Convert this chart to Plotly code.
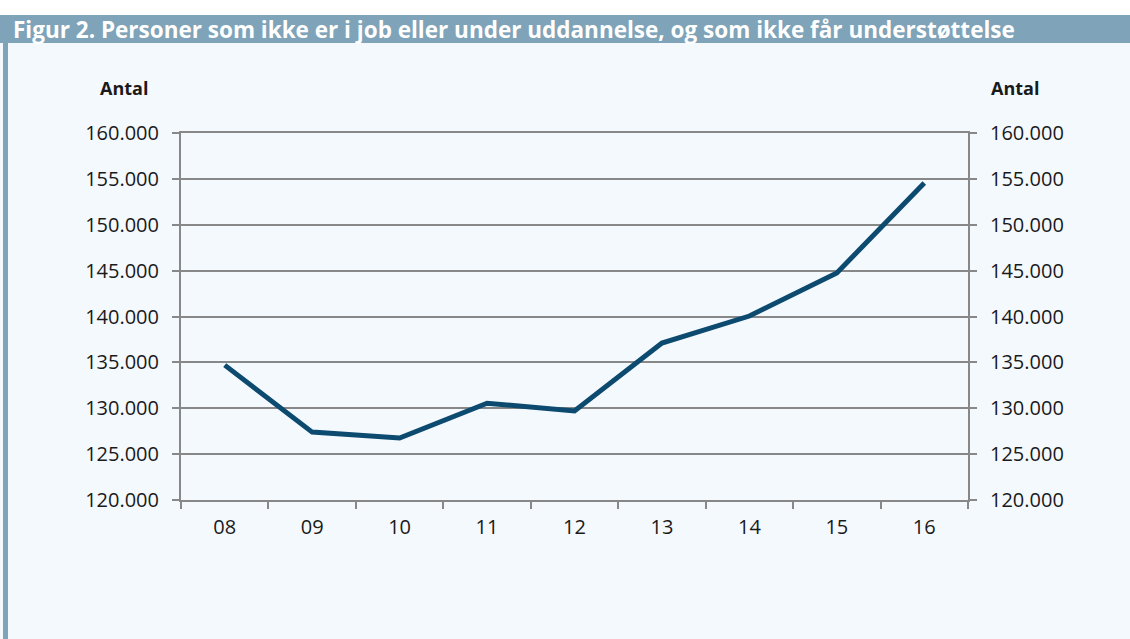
import plotly.graph_objects as go

years = ["08", "09", "10", "11", "12", "13", "14", "15", "16"]
antal = [134700, 127400, 126750, 130550, 129700, 137100, 140050, 144750, 154550]
y_ticks = [120000, 125000, 130000, 135000, 140000, 145000, 150000, 155000, 160000]
y_tick_labels = ["120.000", "125.000", "130.000", "135.000", "140.000", "145.000", "150.000", "155.000", "160.000"]
title = "Figur 2. Personer som ikke er i job eller under uddannelse, og som ikke får understøttelse"

W, H = 1130, 639
L, R, T, B = 181, 162, 133, 139
pw, ph = W - L - R, H - T - B

def px(x):
    return (x - L) / pw

def py(y):
    return (H - B - y) / ph

FONT = "Open Sans"
fig = go.Figure()
fig.add_trace(go.Scatter(x=years, y=antal, mode="lines",
                         line=dict(color="#0d4a70", width=5), showlegend=False, hoverinfo="x+y"))
fig.add_trace(go.Scatter(x=years, y=antal, mode="lines", yaxis="y2",
                         line=dict(color="rgba(0,0,0,0)", width=0), showlegend=False, hoverinfo="skip"))

axis_common = dict(range=[120000, 160000], tickvals=y_ticks, ticktext=y_tick_labels,
                   ticks="outside", ticklen=7, tickcolor="#888888", tickwidth=2,
                   linecolor="#888888", linewidth=2, showline=True, automargin=False,
                   ticklabelstandoff=9,
                   tickfont=dict(family=FONT, size=20, color="#1a1a1a"), zeroline=False)

fig.update_layout(
    width=W, height=H,
    margin=dict(l=L, r=R, t=T, b=B, autoexpand=False),
    paper_bgcolor="white",
    plot_bgcolor="rgba(0,0,0,0)",
    xaxis=dict(type="category", range=[-0.5, 8.5], showgrid=False, ticks="outside",
               ticklen=7, tickcolor="#888888", tickwidth=2, tickson="boundaries",
               showline=True, mirror=True, linecolor="#888888", linewidth=2, automargin=False,
               ticklabelstandoff=8,
               tickfont=dict(family=FONT, size=20, color="#1a1a1a")),
    yaxis=dict(**axis_common, showgrid=True, gridcolor="#888888", gridwidth=2, side="left"),
    yaxis2=dict(**axis_common, showgrid=False, overlaying="y", side="right"),
    shapes=[
        dict(type="rect", xref="paper", yref="paper", x0=px(0), x1=px(W), y0=py(H), y1=py(43),
             fillcolor="#f4f9fe", line=dict(width=0), layer="below"),
        dict(type="rect", xref="paper", yref="paper", x0=px(0), x1=px(W), y0=py(43), y1=py(15),
             fillcolor="#7fa3b8", line=dict(width=0), layer="below"),
        dict(type="rect", xref="paper", yref="paper", x0=px(3), x1=px(8), y0=py(H), y1=py(43),
             fillcolor="#7fa3b8", line=dict(width=0), layer="below"),
    ],
    annotations=[
        dict(text="<b>" + title + "</b>", xref="paper", yref="paper", x=px(11), y=py(29),
             xanchor="left", yanchor="middle", showarrow=False,
             font=dict(family=FONT, size=22.5, color="white")),
        dict(text="<b>Antal</b>", xref="paper", yref="paper", x=px(124), y=py(88),
             xanchor="center", yanchor="middle", showarrow=False,
             font=dict(family=FONT, size=18, color="#1a1a1a")),
        dict(text="<b>Antal</b>", xref="paper", yref="paper", x=px(1015), y=py(88),
             xanchor="center", yanchor="middle", showarrow=False,
             font=dict(family=FONT, size=18, color="#1a1a1a")),
    ],
)

fig.write_html("out.html", config={"displayModeBar": False},
               post_script="document.body.style.margin='0';document.body.style.padding='0';document.body.style.overflow='hidden';")
